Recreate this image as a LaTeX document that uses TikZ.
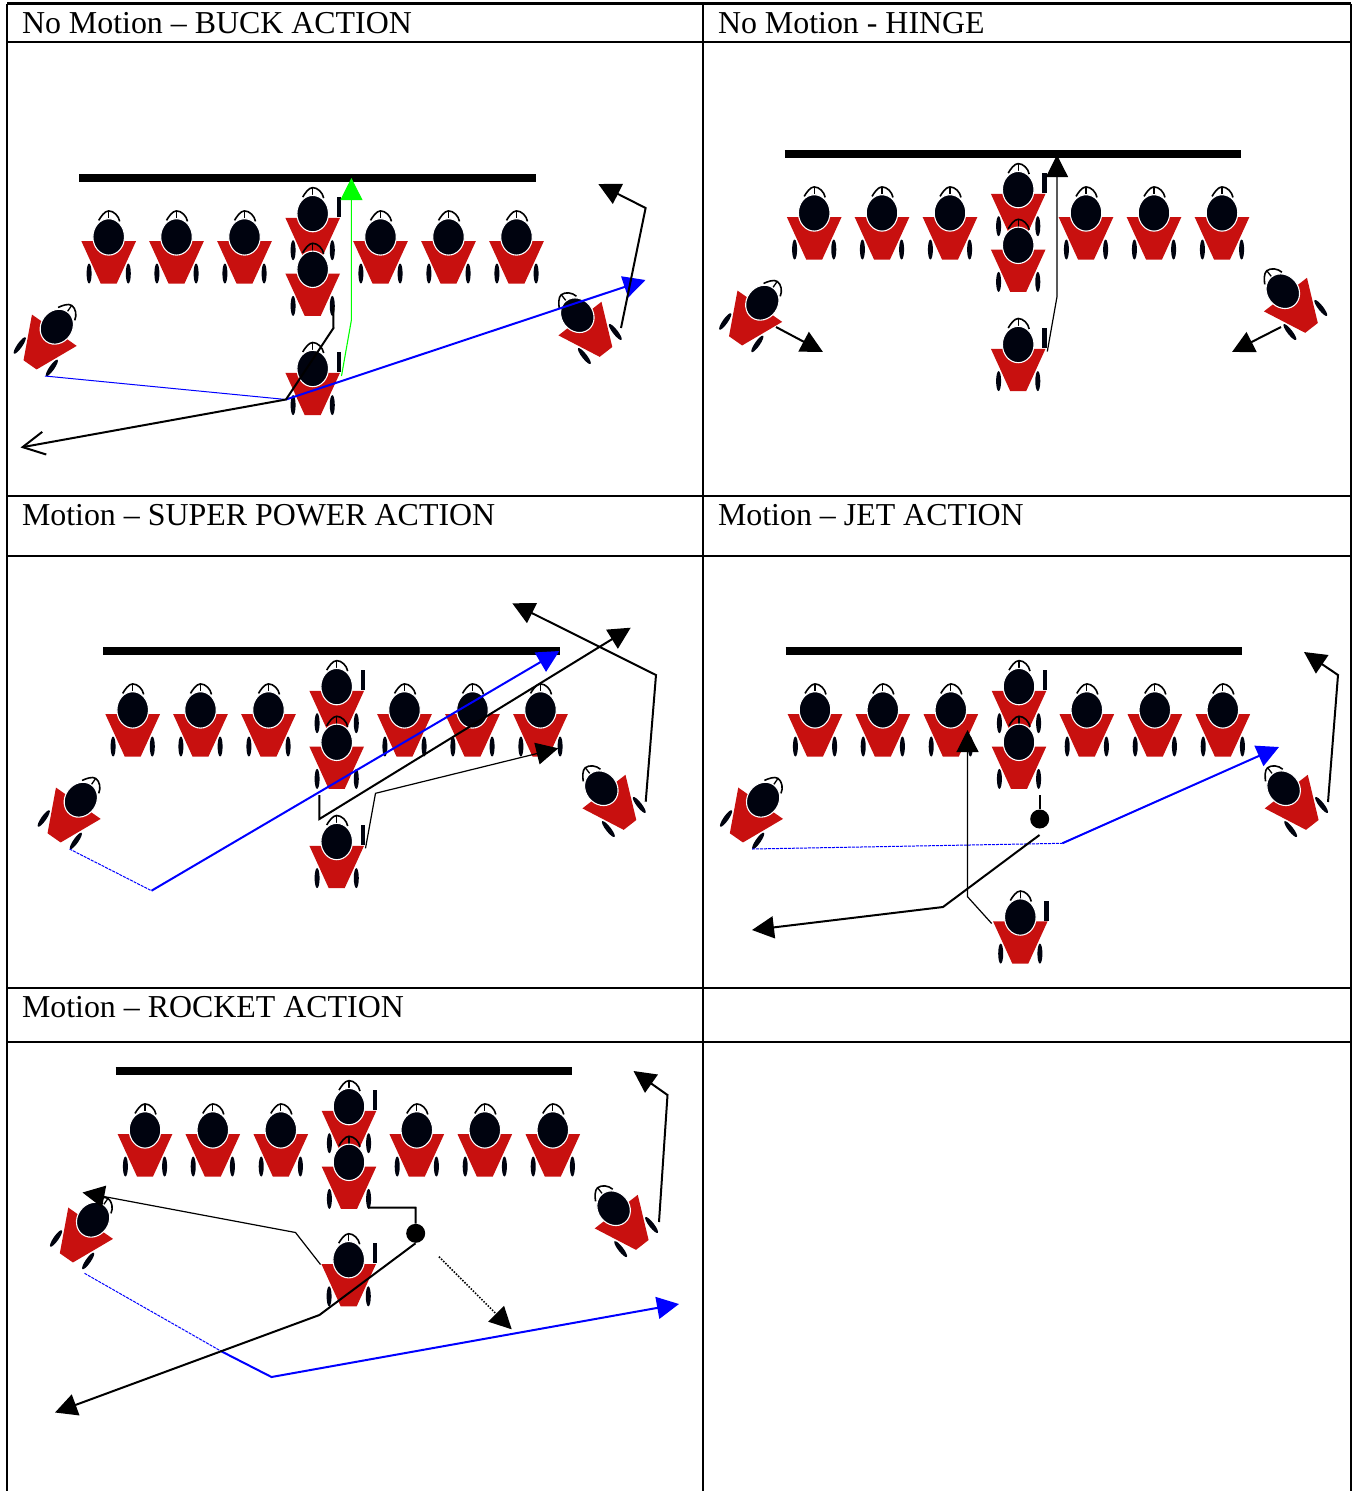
\documentclass[tikz,border=0pt]{standalone}
\usepackage{fontspec}
\setmainfont{Liberation Serif}
\usetikzlibrary{arrows.meta}
\definecolor{plred}{HTML}{C8100F}
\definecolor{plnavy}{HTML}{00030F}
\definecolor{rtblue}{HTML}{0000FF}
\definecolor{rtgreen}{HTML}{00FF00}
\tikzset{
  x=1pt,y=-1pt,
  tablerule/.style={line width=2.3pt,black},
  title/.style={anchor=base west,inner sep=0pt,font=\fontsize{31.9}{36}\selectfont},
  scrimmage/.style={line width=8pt,black},
  tip/.style={-{Triangle[length=22pt,width=22pt]}},
  rthick/.style={line width=2pt,black,line join=miter},
  rthin/.style={line width=1.2pt,black},
  bluethick/.style={line width=2pt,rtblue},
  bluethin/.style={line width=1pt,rtblue},
  bluedash/.style={line width=1pt,rtblue,dash pattern=on 3pt off 1pt},
  dot/.style={circle,fill=black,minimum size=19pt,inner sep=0pt},
  player/.pic={
    \fill[plred] (-27.3,4.3) -- (27.3,4.3) -- (8,46.6) -- (-8,46.6) -- cycle;
    \fill[plnavy] (-19.6,36.6) ellipse [x radius=2.5pt,y radius=10pt];
    \fill[plnavy] (19.6,36.6) ellipse [x radius=2.5pt,y radius=10pt];
    \draw[black,line width=1.6pt] (-10,-16.5) .. controls (-8,-20) and (-4,-26) .. (0,-26)
       .. controls (5,-26) and (10,-21) .. (11,-15.5);
    \draw[black,line width=1.3pt] (0,-26) -- (0,-18);
    \draw[white,fill=plnavy,line width=1.1pt] (0,0) ellipse [x radius=15.8pt,y radius=18.2pt];
  },
  ball/.pic={\fill[plnavy] (23.8,-16.5) rectangle (28.4,3.5);}
}
% offence without the quarterback: #1 name prefix, #2 x offset, #3 y offset from the first panel
\newcommand{\lineup}[3]{%
  \draw[scrimmage] ({#2+79.3},{#3+178}) -- ({#2+535.5},{#3+178});
  \foreach \hx/\pn in {108.7/a,176.5/b,244.5/c,380.5/e,448.5/f,516.5/g}
    \pic (#1\pn) at ({#2+\hx},{#3+236.9}) {player};
  \pic (#1d) at ({#2+312.7},{#3+213.6}) {player};
  \pic at ({#2+312.7},{#3+213.6}) {ball};
  \pic (#1h) at ({#2+312.7},{#3+269.3}) {player};
  \pic[rotate=-35] (#1w) at ({#2+56.8},{#3+326.7}) {player};
  \pic[rotate=38] (#1z) at ({#2+577.3},{#3+315.2}) {player};
}
\begin{document}
\begin{tikzpicture}
\useasboundingbox (0,0) rectangle (1357,1491);
% table
\coordinate (tl) at (7,3.5); \coordinate (tm) at (703.2,3.5); \coordinate (tr) at (1351,3.5);
\coordinate (bl) at (7,1491); \coordinate (bm) at (703.2,1491); \coordinate (br) at (1351,1491);
\draw[tablerule] (tl) -- (tr);
\draw[tablerule] (tl) -- (bl);
\draw[tablerule] (tm) -- (bm);
\draw[tablerule] (tr) -- (br);
\foreach \ry in {42,496,556,988,1042} \draw[tablerule] (7,\ry) -- (1351,\ry);
\node[title] (t1) at (21.8,33.2) {No Motion – BUCK ACTION};
\node[title] (t2) at (717.8,33.2) {No Motion - HINGE};
\node[title] (t3) at (21.8,525.2) {Motion – SUPER POWER ACTION};
\node[title] (t4) at (717.8,525.2) {Motion – JET ACTION};
\node[title] (t5) at (21.8,1017.2) {Motion – ROCKET ACTION};

% ===== panel 1
\lineup{A}{0}{0}
\pic (Aq) at (312.7,368.5) {player}; \pic at (312.7,368.5) {ball};
\coordinate (a1) at (45,376); \coordinate (a2) at (286,399.5); \coordinate (a3) at (645.5,280);
\draw[bluethin] (a1) -- (a2);
\draw[bluethick,-{Triangle[length=22pt,width=22pt]}] (a2) -- (a3);
\coordinate (a4) at (333.3,306); \coordinate (a5) at (333.5,328); \coordinate (a6) at (20.5,447.5);
\draw[rthick,-{Straight Barb[length=22pt,width=23pt,line width=2pt]}] (a4) -- (a5) -- (a2) -- (a6);
\coordinate (a7) at (341.5,376); \coordinate (a8) at (351.4,320); \coordinate (a9) at (351.4,178);
\draw[line width=1.1pt,rtgreen,tip] (a7) -- (a8) -- (a9);
\coordinate (a10) at (621,328); \coordinate (a11) at (645.6,208); \coordinate (a12) at (598.3,184);
\draw[rthick,tip] (a10) -- (a11) -- (a12);

% ===== panel 2
\lineup{B}{705.5}{-24}
\pic (Bq) at (1018.2,344.5) {player}; \pic at (1018.2,344.5) {ball};
\coordinate (b1) at (1047.3,351.5); \coordinate (b2) at (1057,296.7); \coordinate (b3) at (1057,155);
\draw[rthin,tip] (b1) -- (b2) -- (b3);
\coordinate (b4) at (776,327); \coordinate (b5) at (823,352);
\draw[rthick,tip] (b4) -- (b5);
\coordinate (b6) at (1281,327); \coordinate (b7) at (1232,352);
\draw[rthick,tip] (b6) -- (b7);

% ===== panel 3
\lineup{C}{24}{473}
\pic (Cq) at (336.7,841.5) {player}; \pic at (336.7,841.5) {ball};
\coordinate (c1) at (69.5,849); \coordinate (c2) at (151.5,890.7); \coordinate (c3) at (559.3,651);
\draw[bluedash] (c1) -- (c2);
\draw[bluethick,-{Triangle[length=22pt,width=22pt]}] (c2) -- (c3);
\coordinate (c4) at (319.4,795); \coordinate (c5) at (319.4,819); \coordinate (c6) at (630.7,627.7);
\draw[rthick,tip] (c4) -- (c5) -- (c6);
\coordinate (c7) at (365.5,848.3); \coordinate (c8) at (375.5,793.3); \coordinate (c9) at (558.3,748.3);
\draw[rthin,tip] (c7) -- (c8) -- (c9);
\coordinate (c10) at (645.7,801.7); \coordinate (c11) at (656,675); \coordinate (c12) at (512.3,603.3);
\draw[rthick,tip] (c10) -- (c11) -- (c12);

% ===== panel 4
\lineup{D}{706.3}{473}
\pic (Dq) at (1020.3,917) {player}; \pic at (1020.3,917) {ball};
\node[dot] (dm) at (1039.7,819) {};
\coordinate (d0) at (1039.7,795);
\draw[rthick] (d0) -- (dm);
\coordinate (d1) at (752,849); \coordinate (d2) at (1062.3,843.3); \coordinate (d3) at (1279,747);
\draw[bluedash] (d1) -- (d2);
\draw[bluethick,-{Triangle[length=22pt,width=22pt]}] (d2) -- (d3);
\coordinate (d4) at (1039.5,835); \coordinate (d5) at (943,907); \coordinate (d6) at (752,930);
\draw[rthick,tip] (d4) -- (d5) -- (d6);
\coordinate (d7) at (991.7,923.5); \coordinate (d8) at (967.5,896.7); \coordinate (d9) at (967.5,730);
\draw[rthin,tip] (d7) -- (d8) -- (d9);
\coordinate (d10) at (1328,802); \coordinate (d11) at (1338,675); \coordinate (d12) at (1304,652);
\draw[rthick,tip] (d10) -- (d11) -- (d12);

% ===== panel 5
\lineup{E}{36.3}{893}
\pic (Eq) at (348.7,1259.7) {player}; \pic at (348.7,1259.7) {ball};
\node[dot] (em) at (415.7,1233.3) {};
\coordinate (e0) at (368.3,1207.7); \coordinate (e00) at (415.5,1207.7);
\draw[rthick] (e0) -- (e00) -- (em);
\coordinate (e1) at (84.5,1273.3); \coordinate (e2) at (221.7,1351.5); \coordinate (e3) at (271.5,1377); \coordinate (e4) at (679,1304);
\draw[bluedash] (e1) -- (e2);
\draw[bluethick,-{Triangle[length=22pt,width=22pt]}] (e2) -- (e3) -- (e4);
\coordinate (e5) at (320.5,1264.5); \coordinate (e6) at (295.5,1232.5); \coordinate (e7) at (82.5,1192.5);
\draw[rthin,tip] (e5) -- (e6) -- (e7);
\coordinate (e8) at (415.5,1243.3); \coordinate (e9) at (319.4,1315); \coordinate (e10) at (55,1412.5);
\draw[rthick,tip] (e8) -- (e9) -- (e10);
\coordinate (e11) at (439,1256.7); \coordinate (e12) at (511.7,1329.3);
\draw[line width=1.6pt,black,dash pattern=on 1.5pt off 1.5pt,tip] (e11) -- (e12);
\coordinate (e13) at (659,1222); \coordinate (e14) at (667.5,1095); \coordinate (e15) at (633.5,1071);
\draw[rthick,tip] (e13) -- (e14) -- (e15);
\end{tikzpicture}
\end{document}
